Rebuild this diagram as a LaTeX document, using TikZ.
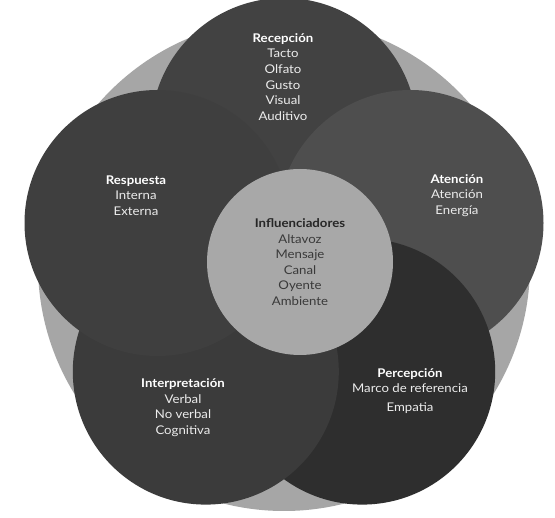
\documentclass[tikz,border=0pt]{standalone}
\usepackage{fontspec}
\setmainfont{Lato}[FakeStretch=1.1]
\definecolor{bggray}{HTML}{A6A6A6}
\definecolor{crec}{HTML}{424242}
\definecolor{cate}{HTML}{4E4E4E}
\definecolor{cper}{HTML}{2E2E2E}
\definecolor{cint}{HTML}{3B3B3B}
\definecolor{cres}{HTML}{3F3F3F}
\definecolor{ccen}{HTML}{A8A8A8}
\definecolor{lighttxt}{HTML}{ECECEC}
\definecolor{darktxt}{HTML}{3A3A3A}
\tikzset{
  disc/.style={circle, inner sep=0pt, minimum size=266pt, draw=none},
  lbl/.style={align=center, text=lighttxt, font=\fontsize{12}{15.6}\selectfont, inner sep=0pt},
  clbl/.style={lbl, text=darktxt},
}
\begin{document}
\begin{tikzpicture}[x=1pt,y=-1pt]
\clip (0,0) rectangle (555,518);
\useasboundingbox (0,0) rectangle (555,518);
\fill[white] (0,0) rectangle (555,518);
% background ring
\node[circle, inner sep=0pt, minimum size=492pt, fill=bggray] (bg) at (284,265) {};
% five circles (drawing order gives the overlaps)
\node[disc, fill=crec] (rec) at (284,131) {};
\node[disc, fill=cate] (ate) at (410.5,223) {};
\node[disc, fill=cper] (per) at (362.2,371.6) {};
\node[disc, fill=cint] (int) at (205.8,371.6) {};
\node[disc, fill=cres] (res) at (157.5,223) {};
% centre circle
\node[circle, inner sep=0pt, minimum size=186pt, fill=ccen] (cen) at (300,262) {};
% texts
\node[lbl] (trec) at (283,77) {\textbf{\textcolor{white}{Recepción}}\\Tacto\\Olfato\\Gusto\\Visual\\Auditivo};
\node[lbl] (tres) at (136,195.5) {\textbf{\textcolor{white}{Respuesta}}\\Interna\\Externa};
\node[lbl] (tate) at (457,195.5) {\textbf{\textcolor{white}{Atención}}\\Atención\\Energía};
\node[clbl] (tcen) at (300,262) {\textbf{\textcolor{black!85}{Influenciadores}}\\Altavoz\\Mensaje\\Canal\\Oyente\\Ambiente};
\node[lbl] (tint) at (183,407.5) {\textbf{\textcolor{white}{Interpretación}}\\Verbal\\No verbal\\Cognitiva};
\node[lbl] (tper) at (410,391) {\textbf{\textcolor{white}{Percepción}}\\Marco de referencia\\[3pt]Empatia};
\end{tikzpicture}
\end{document}
